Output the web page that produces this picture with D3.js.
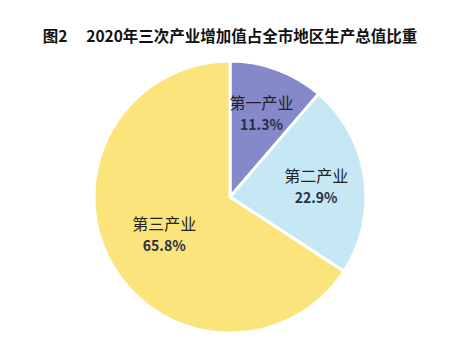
<!DOCTYPE html>
<html><head><meta charset="utf-8">
<script src="https://cdn.jsdelivr.net/npm/d3@7/dist/d3.min.js"></script>
<style>body{margin:0;background:#fff}svg{display:block}</style>
</head><body><svg id="c" width="460" height="355"></svg>
<script>
const title = "图2\u3000 2020年三次产业增加值占全市地区生产总值比重";
const categories = ["第一产业", "第二产业", "第三产业"];
const values = [11.3, 22.9, 65.8];
const colors = ["#8589c9", "#c6e8f5", "#fbe47c"];

const svg = d3.select("#c");
const cx = 230, cy = 197, R = 136;

svg.append("text").attr("x", 230).attr("y", 42).attr("text-anchor", "middle")
  .attr("font-family", "'Noto Sans CJK SC', sans-serif").attr("font-weight", "bold")
  .attr("font-size", 15.5).attr("fill", "#111").text(title);

const pie = d3.pie().sort(null).value(d => d)(values);
const arc = d3.arc().innerRadius(0).outerRadius(R);
const g = svg.append("g").attr("transform", `translate(${cx},${cy})`);
g.selectAll("path").data(pie).join("path")
  .attr("d", arc).attr("fill", (d, i) => colors[i])
  .attr("stroke", "#fff").attr("stroke-width", 3).attr("stroke-linejoin", "round");

const labelR = [0.666, 0.64, 0.55];
pie.forEach((d, i) => {
  const a = (d.startAngle + d.endAngle) / 2;
  const r = R * labelR[i];
  const x = Math.sin(a) * r, y = -Math.cos(a) * r;
  const t = g.append("text").attr("text-anchor", "middle")
    .attr("font-family", "'Noto Sans CJK SC', sans-serif").attr("fill", "#222");
  t.append("tspan").attr("x", x).attr("y", y - 3).attr("font-size", 16).text(categories[i]);
  t.append("tspan").attr("x", x).attr("y", y + 18).attr("font-size", 14)
    .attr("font-weight", "bold").attr("fill", "#2a2f45").text(values[i].toFixed(1) + "%");
});
</script></body></html>
